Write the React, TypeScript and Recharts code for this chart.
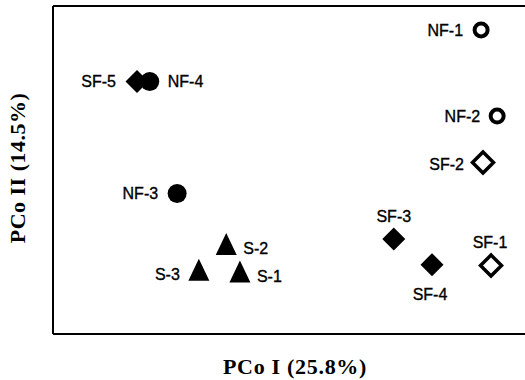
import { ScatterChart, Scatter, XAxis, YAxis, Label } from 'recharts'

type Sample = { name: string; x: number; y: number }

// PCo I / PCo II scores
const openCircles: Sample[] = [
  { name: 'NF-1', x: 0.457, y: 0.299 },
  { name: 'NF-2', x: 0.491, y: 0.115 },
]
const filledCircles: Sample[] = [
  { name: 'NF-3', x: -0.187, y: -0.05 },
  { name: 'NF-4', x: -0.245, y: 0.189 },
]
const openDiamonds: Sample[] = [
  { name: 'SF-1', x: 0.478, y: -0.204 },
  { name: 'SF-2', x: 0.461, y: 0.016 },
]
const filledDiamonds: Sample[] = [
  { name: 'SF-3', x: 0.272, y: -0.147 },
  { name: 'SF-4', x: 0.353, y: -0.202 },
  { name: 'SF-5', x: -0.272, y: 0.189 },
]
const triangles: Sample[] = [
  { name: 'S-1', x: -0.054, y: -0.219 },
  { name: 'S-2', x: -0.083, y: -0.16 },
  { name: 'S-3', x: -0.141, y: -0.215 },
]

const xDomain = [-0.45, 0.55]
const yDomain = [-0.35, 0.35]

// where each sample's name sits relative to its marker: dx, dy, anchor
const labelPlace: Record<string, [number, number, 'start' | 'middle' | 'end']> = {
  'NF-1': [-18, 6, 'end'],
  'NF-2': [-17, 6, 'end'],
  'NF-3': [-19, 6, 'end'],
  'NF-4': [18, 6, 'start'],
  'SF-1': [-1, -18, 'middle'],
  'SF-2': [-19, 7, 'end'],
  'SF-3': [0, -17, 'middle'],
  'SF-4': [-2, 35, 'middle'],
  'SF-5': [-21, 6, 'end'],
  'S-1': [17, 9, 'start'],
  'S-2': [17, 9, 'start'],
  'S-3': [-19, 9, 'end'],
}

const LABEL_FONT = 'Liberation Sans, Arial, sans-serif'
const TITLE_FONT = 'Liberation Serif, Times New Roman, serif'
const frame = { stroke: '#000', strokeWidth: 2 }

function Name({ cx, cy, name }: { cx: number; cy: number; name: string }) {
  const [dx, dy, anchor] = labelPlace[name] ?? [12, 5, 'start']
  return (
    <text x={cx + dx} y={cy + dy} textAnchor={anchor} fontFamily={LABEL_FONT}
      fontSize={16} fill="#000" stroke="#000" strokeWidth={0.35}>
      {name}
    </text>
  )
}

const marker = (kind: string) => (props: any) => {
  const { cx, cy, payload } = props
  let glyph
  if (kind === 'openCircle') {
    glyph = <circle cx={cx} cy={cy} r={6.5} fill="#fff" stroke="#000" strokeWidth={4} />
  } else if (kind === 'circle') {
    glyph = <circle cx={cx} cy={cy} r={9.5} fill="#000" />
  } else if (kind === 'openDiamond') {
    const h = 10.5
    glyph = <polygon points={`${cx},${cy - h} ${cx + h},${cy} ${cx},${cy + h} ${cx - h},${cy}`}
      fill="#fff" stroke="#000" strokeWidth={3.5} strokeLinejoin="miter" />
  } else if (kind === 'diamond') {
    const h = 11.5
    glyph = <polygon points={`${cx},${cy - h} ${cx + h},${cy} ${cx},${cy + h} ${cx - h},${cy}`} fill="#000" />
  } else {
    glyph = <polygon points={`${cx},${cy - 12} ${cx + 10.5},${cy + 10} ${cx - 10.5},${cy + 10}`} fill="#000" />
  }
  return (
    <g>
      {glyph}
      <Name cx={cx} cy={cy} name={payload.name} />
    </g>
  )
}

function XTitle(props: any) {
  const vb = props.viewBox ?? { x: 53, y: 334, width: 472 }
  return (
    <text x={vb.x + vb.width / 2 + 6} y={vb.y + 40} textAnchor="middle" fontFamily={TITLE_FONT}
      fontWeight="bold" fontSize={22} letterSpacing={0.7} fill="#000">
      PCo I (25.8%)
    </text>
  )
}

function YTitle(props: any) {
  const vb = props.viewBox ?? { x: 52, y: 6, height: 328 }
  const cx = vb.x - 27
  const cy = vb.y + vb.height / 2 - 2
  return (
    <text x={cx} y={cy} transform={`rotate(-90 ${cx} ${cy})`} textAnchor="middle"
      fontFamily={TITLE_FONT} fontWeight="bold" fontSize={22} letterSpacing={0.5} fill="#000">
      PCo II (14.5%)
    </text>
  )
}

export default function App() {
  return (
    <div style={{ position: 'absolute', left: 0, top: 0, background: '#fff' }}>
      <ScatterChart width={525} height={380} margin={{ top: 5, right: 0, bottom: 45, left: 52 }}>
        <XAxis type="number" dataKey="x" domain={xDomain} height={1} tick={false} tickLine={false}
          axisLine={frame}>
          <Label content={<XTitle />} />
        </XAxis>
        <XAxis xAxisId="top" orientation="top" type="number" dataKey="x" domain={xDomain} height={1}
          tick={false} tickLine={false} axisLine={frame} />
        <YAxis type="number" dataKey="y" domain={yDomain} width={1} tick={false} tickLine={false}
          axisLine={frame}>
          <Label content={<YTitle />} />
        </YAxis>

        <Scatter data={triangles} shape={marker('triangle')} isAnimationActive={false} />
        <Scatter data={filledDiamonds} shape={marker('diamond')} isAnimationActive={false} />
        <Scatter data={filledCircles} shape={marker('circle')} isAnimationActive={false} />
        <Scatter data={openDiamonds} shape={marker('openDiamond')} isAnimationActive={false} />
        <Scatter data={openCircles} shape={marker('openCircle')} isAnimationActive={false} />
      </ScatterChart>
    </div>
  )
}
